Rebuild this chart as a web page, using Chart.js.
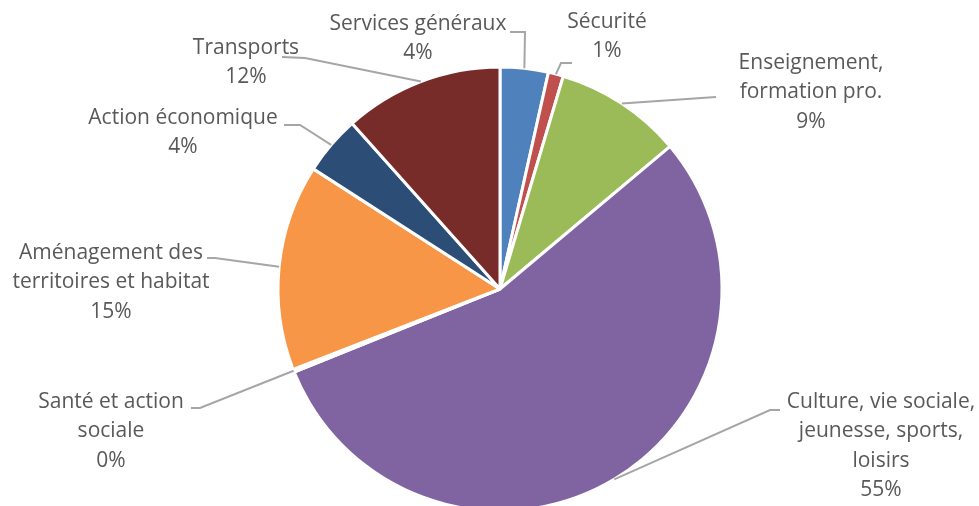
<!DOCTYPE html>
<html>
<head>
<meta charset="utf-8">
<script src="https://cdn.jsdelivr.net/npm/chart.js@4"></script>
<style>
  html, body { margin: 0; padding: 0; background: #fff; overflow: hidden; }
  #wrap { position: relative; width: 979px; height: 520px; }
</style>
</head>
<body>
<div id="wrap"><canvas id="camembert"></canvas></div>
<script>
const categories = [
  ["Services généraux"],
  ["Sécurité"],
  ["Enseignement,", "formation pro."],
  ["Culture, vie sociale,", "jeunesse, sports,", "loisirs"],
  ["Santé et action", "sociale"],
  ["Aménagement des", "territoires et habitat"],
  ["Action économique"],
  ["Transports"]
];
const values = [3.5, 1.1, 9.3, 55.0, 0.2, 15.0, 4.3, 11.6];
const colors = ["#4F81BD", "#C0504D", "#9BBB59", "#8064A2", "#4BACC6", "#F79646", "#2C4D75", "#772C2A"];

// placement des étiquettes (centre du texte, 1re ligne) et coude de la ligne de rappel
const labelPos = [
  { x: 418, y: 24, elbow: [525, 32], end: [510, 32] },
  { x: 607, y: 22, elbow: [561, 63], end: [572, 63] },
  { x: 811, y: 63, elbow: [716, 97], end: [716, 97] },
  { x: 881, y: 402, elbow: [770, 410], end: [780, 410] },
  { x: 111, y: 402, elbow: [200, 408], end: [191, 408] },
  { x: 111, y: 253, elbow: [215, 258], end: [207, 258] },
  { x: 183, y: 118, elbow: [300, 125], end: [284, 125] },
  { x: 246, y: 48, elbow: [305, 58], end: [282, 57] }
];

const etiquettes = {
  id: 'etiquettes',
  afterDatasetsDraw(chart) {
    const c = chart.ctx;
    const meta = chart.getDatasetMeta(0);
    const total = values.reduce((a, b) => a + b, 0);
    c.save();
    meta.data.forEach((arc, i) => {
      const p = labelPos[i];
      const mid = (arc.startAngle + arc.endAngle) / 2;
      const ax = arc.x + Math.cos(mid) * arc.outerRadius;
      const ay = arc.y + Math.sin(mid) * arc.outerRadius;
      c.strokeStyle = '#A6A6A6';
      c.lineWidth = 2;
      c.beginPath();
      c.moveTo(ax, ay);
      c.lineTo(p.elbow[0], p.elbow[1]);
      c.lineTo(p.end[0], p.end[1]);
      c.stroke();

      const lines = categories[i].concat([Math.round(values[i] / total * 100) + '%']);
      c.fillStyle = '#595959';
      c.font = '21px "Open Sans"';
      c.textAlign = 'center';
      c.textBaseline = 'middle';
      lines.forEach((t, k) => c.fillText(t, p.x, p.y + k * 29.5));
    });
    c.restore();
  }
};

const ctx = document.getElementById('camembert').getContext('2d');
new Chart(ctx, {
  type: 'pie',
  data: {
    labels: categories.map(l => l.join(' ')),
    datasets: [{
      data: values,
      backgroundColor: colors,
      borderColor: '#ffffff',
      borderWidth: 3
    }]
  },
  options: {
    responsive: true,
    maintainAspectRatio: false,
    animation: false,
    radius: 222,
    layout: { padding: { left: 278, right: 257, top: 67, bottom: 9 } },
    plugins: {
      legend: { display: false },
      tooltip: { enabled: false }
    }
  },
  plugins: [etiquettes]
});
</script>
</body>
</html>
